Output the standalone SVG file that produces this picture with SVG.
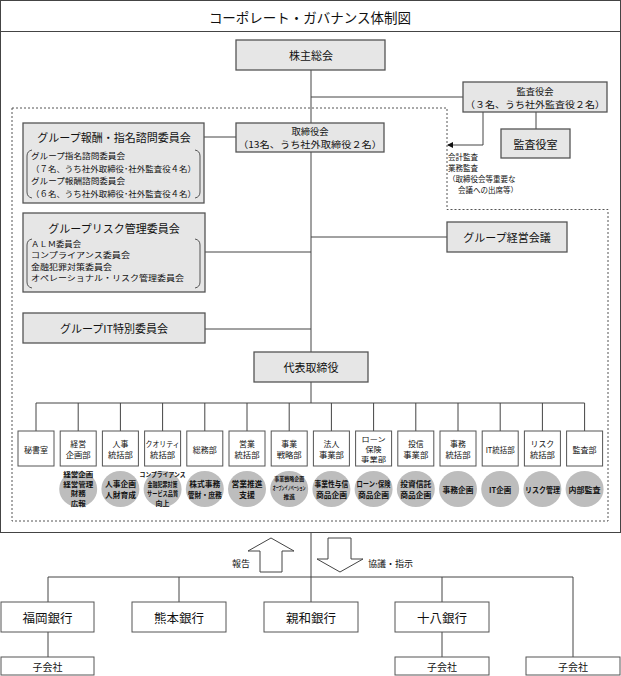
<svg xmlns="http://www.w3.org/2000/svg" width="621" height="676" viewBox="0 0 621 676">
<style>
.g{fill:#e6e6e6;stroke:#555;stroke-width:1.3}
.w{fill:#fff;stroke:#555;stroke-width:1}
.c{fill:#bdbdbd;stroke:none}
.ln{stroke:#444;stroke-width:1;fill:none}
.dash{stroke:#555;stroke-width:1;stroke-dasharray:2,2;fill:none}
.br{stroke:#555;stroke-width:1;fill:none}
text{font-family:"Noto Sans CJK JP","Noto Sans",sans-serif;fill:#111;dominant-baseline:central}
.m{text-anchor:middle}
.t11{font-size:11px}
.t10{font-size:10px}
.tb{font-size:9.3px}
.t9{font-size:8.5px}
.tr{font-size:7.9px}
.d{font-size:7.9px;text-anchor:middle}
.d3{font-size:6.8px;text-anchor:middle}
.ci{font-size:7.5px;font-weight:bold;text-anchor:middle}
.c4{font-size:6.6px;font-weight:bold;text-anchor:middle}
.ct{font-size:5.8px;font-weight:bold;text-anchor:middle}
.an{font-size:7.5px}
.bank{font-size:12.5px;text-anchor:middle}
</style>
<defs>
<marker id="ah" markerWidth="6" markerHeight="6" refX="5" refY="3" orient="auto" markerUnits="userSpaceOnUse">
<path d="M0,0 L6,3 L0,6 Z" fill="#111"/>
</marker>
</defs>
<rect x="0.5" y="0.5" width="620" height="532" fill="#fff" stroke="#444" stroke-width="1"/>
<line x1="0.5" y1="31.5" x2="620.5" y2="31.5" stroke="#444" stroke-width="1"/>
<text x="310" y="17" class="m" font-size="13.5">コーポレート・ガバナンス体制図</text>
<path class="dash" d="M12,108 H447 V209.5 H608 V521 H12 Z"/>
<g id="connectors">
<line class="ln" x1="311" y1="70" x2="311" y2="403"/>
<line class="ln" x1="311" y1="97" x2="463" y2="97"/>
<line class="ln" x1="204" y1="137" x2="236" y2="137"/>
<line class="ln" x1="205" y1="252" x2="311" y2="252"/>
<line class="ln" x1="311" y1="237" x2="447" y2="237"/>
<line class="ln" x1="205" y1="329" x2="311" y2="329"/>
<line class="ln" x1="536" y1="112" x2="536" y2="129"/>
<path class="ln" d="M483,112 V145 H448" marker-end="url(#ah)"/>
<line class="ln" x1="36" y1="403" x2="584.6" y2="403"/>
<g class="ln">
<line x1="36" y1="403" x2="36" y2="431"/>
<line x1="78.2" y1="403" x2="78.2" y2="431"/>
<line x1="120.4" y1="403" x2="120.4" y2="431"/>
<line x1="162.6" y1="403" x2="162.6" y2="431"/>
<line x1="204.8" y1="403" x2="204.8" y2="431"/>
<line x1="247" y1="403" x2="247" y2="431"/>
<line x1="289.2" y1="403" x2="289.2" y2="431"/>
<line x1="331.4" y1="403" x2="331.4" y2="431"/>
<line x1="373.6" y1="403" x2="373.6" y2="431"/>
<line x1="415.8" y1="403" x2="415.8" y2="431"/>
<line x1="458" y1="403" x2="458" y2="431"/>
<line x1="500.2" y1="403" x2="500.2" y2="431"/>
<line x1="542.4" y1="403" x2="542.4" y2="431"/>
<line x1="584.6" y1="403" x2="584.6" y2="431"/>
</g>
<line class="ln" x1="311" y1="532" x2="311" y2="602"/>
<line class="ln" x1="48" y1="577" x2="573" y2="577"/>
<line class="ln" x1="48" y1="577" x2="48" y2="602"/>
<line class="ln" x1="179" y1="577" x2="179" y2="602"/>
<line class="ln" x1="442" y1="577" x2="442" y2="602"/>
<line class="ln" x1="573" y1="577" x2="573" y2="657"/>
<line class="ln" x1="48" y1="632" x2="48" y2="657"/>
<line class="ln" x1="442" y1="632" x2="442" y2="657"/>
<polygon points="271,538 294,551 282,551 282,572 260,572 260,551 248,551" fill="#fff" stroke="#444" stroke-width="1"/>
<polygon points="328,538 351,538 351,559 363,559 340,572 317,559 328,559" fill="#fff" stroke="#444" stroke-width="1"/>
</g>
<text x="241" y="563" class="m" font-size="9">報告</text>
<text x="368" y="563" font-size="9">協議・指示</text>
<g id="audit-note">
<text x="448" y="156" class="an">会計監査</text>
<text x="448" y="167" class="an">業務監査</text>
<text x="448" y="178" class="an">（取締役会等重要な</text>
<text x="458" y="189" class="an">会議への出席等）</text>
</g>
<g id="n-kabunushi"><rect class="g" x="236" y="40" width="149" height="30"/><text x="311" y="55" class="m t11">株主総会</text></g>
<g id="n-kansayakukai"><rect class="g" x="463" y="82" width="144" height="30"/><text x="535" y="90.5" class="m tb">監査役会</text><text x="535" y="104" class="m tb" textLength="140" lengthAdjust="spacingAndGlyphs">（３名、うち社外監査役２名）</text></g>
<g id="n-kansayakushitsu"><rect class="g" x="501" y="129" width="69" height="29"/><text x="535.5" y="143.5" class="m t11">監査役室</text></g>
<g id="n-torishimariyakukai"><rect class="g" x="236" y="123" width="148" height="29"/><text x="310" y="130.5" class="m tb">取締役会</text><text x="310" y="144" class="m tb" textLength="144" lengthAdjust="spacingAndGlyphs">（13名、うち社外取締役２名）</text></g>
<g id="n-houshu"><rect class="g" x="23" y="123" width="181" height="80"/>
<text x="114" y="137" class="m t11">グループ報酬・指名諮問委員会</text>
<path class="br" d="M32,150 Q27,151 27,156 V192 Q27,197 32,198"/>
<path class="br" d="M195,150 Q200,151 200,156 V192 Q200,197 195,198"/>
<text x="31" y="155" class="t9" textLength="94" lengthAdjust="spacingAndGlyphs">グループ指名諮問委員会</text>
<text x="31" y="167.5" class="t9" textLength="165" lengthAdjust="spacingAndGlyphs">（７名、うち社外取締役･社外監査役４名）</text>
<text x="31" y="180" class="t9" textLength="94" lengthAdjust="spacingAndGlyphs">グループ報酬諮問委員会</text>
<text x="31" y="192.5" class="t9" textLength="165" lengthAdjust="spacingAndGlyphs">（６名、うち社外取締役･社外監査役４名）</text>
</g>
<g id="n-risk"><rect class="g" x="23" y="213" width="182" height="79"/>
<text x="114" y="228" class="m t11">グループリスク管理委員会</text>
<path class="br" d="M32,239 Q27,240 27,245 V282 Q27,287 32,288"/>
<path class="br" d="M195,239 Q200,240 200,245 V282 Q200,287 195,288"/>
<text x="31" y="243" class="tr" textLength="50" lengthAdjust="spacingAndGlyphs">ＡＬＭ委員会</text>
<text x="31" y="254.5" class="tr" textLength="99" lengthAdjust="spacingAndGlyphs">コンプライアンス委員会</text>
<text x="31" y="266" class="tr" textLength="81" lengthAdjust="spacingAndGlyphs">金融犯罪対策委員会</text>
<text x="31" y="277.5" class="tr" textLength="153" lengthAdjust="spacingAndGlyphs">オペレーショナル・リスク管理委員会</text>
</g>
<g id="n-it"><rect class="g" x="23" y="313" width="182" height="30"/><text x="114" y="328" class="m t11">グループIT特別委員会</text></g>
<g id="n-keiei"><rect class="g" x="447" y="222" width="120" height="30"/><text x="507" y="237" class="m t11">グループ経営会議</text></g>
<g id="n-daihyo"><rect class="g" x="254" y="352" width="114" height="30"/><text x="311" y="367" class="m t11">代表取締役</text></g>

<g id="d0"><rect class="w" x="18" y="431" width="36" height="35"/><text x="36" y="449" class="d" textLength="24" lengthAdjust="spacingAndGlyphs">秘書室</text></g>
<g id="d1"><rect class="w" x="60.2" y="431" width="36" height="35"/><text x="78.2" y="443" class="d">経営</text><text x="78.2" y="454.5" class="d" textLength="25" lengthAdjust="spacingAndGlyphs">企画部</text>
<ellipse class="c" cx="78.2" cy="489" rx="19" ry="18"/><text x="78.2" y="474" class="c4" textLength="30" lengthAdjust="spacingAndGlyphs">経営企画</text><text x="78.2" y="483.7" class="c4" textLength="30" lengthAdjust="spacingAndGlyphs">経営管理</text><text x="78.2" y="493.4" class="c4" textLength="15" lengthAdjust="spacingAndGlyphs">財務</text><text x="78.2" y="503.1" class="c4" textLength="15" lengthAdjust="spacingAndGlyphs">広報</text></g>
<g id="d2"><rect class="w" x="102.4" y="431" width="36" height="35"/><text x="120.4" y="443" class="d">人事</text><text x="120.4" y="454.5" class="d" textLength="25" lengthAdjust="spacingAndGlyphs">統括部</text>
<ellipse class="c" cx="120.4" cy="489" rx="19" ry="18"/><text x="120.4" y="483.5" class="ci" textLength="31" lengthAdjust="spacingAndGlyphs">人事企画</text><text x="120.4" y="494.5" class="ci" textLength="31" lengthAdjust="spacingAndGlyphs">人財育成</text></g>
<g id="d3"><rect class="w" x="144.6" y="431" width="36" height="35"/><text x="162.6" y="443" class="d" textLength="34" lengthAdjust="spacingAndGlyphs">クオリティ</text><text x="162.6" y="454.5" class="d" textLength="25" lengthAdjust="spacingAndGlyphs">統括部</text>
<ellipse class="c" cx="162.6" cy="489" rx="19" ry="18"/><text x="162.6" y="474" class="c4" textLength="46" lengthAdjust="spacingAndGlyphs">コンプライアンス</text><text x="162.6" y="483.7" class="c4" textLength="30" lengthAdjust="spacingAndGlyphs">金融犯罪対策</text><text x="162.6" y="493.4" class="c4" textLength="31" lengthAdjust="spacingAndGlyphs">サービス品質</text><text x="162.6" y="503.1" class="c4" textLength="14" lengthAdjust="spacingAndGlyphs">向上</text></g>
<g id="d4"><rect class="w" x="186.8" y="431" width="36" height="35"/><text x="204.8" y="449" class="d" textLength="24" lengthAdjust="spacingAndGlyphs">総務部</text>
<ellipse class="c" cx="204.8" cy="489" rx="19" ry="18"/><text x="204.8" y="483.5" class="ci" textLength="31" lengthAdjust="spacingAndGlyphs">株式事務</text><text x="204.8" y="494.5" class="ci" textLength="34" lengthAdjust="spacingAndGlyphs">管財・庶務</text></g>
<g id="d5"><rect class="w" x="229" y="431" width="36" height="35"/><text x="247" y="443" class="d">営業</text><text x="247" y="454.5" class="d" textLength="25" lengthAdjust="spacingAndGlyphs">統括部</text>
<ellipse class="c" cx="247" cy="489" rx="19" ry="18"/><text x="247" y="483.5" class="ci" textLength="31" lengthAdjust="spacingAndGlyphs">営業推進</text><text x="247" y="494.5" class="ci" textLength="16" lengthAdjust="spacingAndGlyphs">支援</text></g>
<g id="d6"><rect class="w" x="271.2" y="431" width="36" height="35"/><text x="289.2" y="443" class="d">事業</text><text x="289.2" y="454.5" class="d" textLength="25" lengthAdjust="spacingAndGlyphs">戦略部</text>
<ellipse class="c" cx="289.2" cy="489" rx="19" ry="18"/>
<text transform="translate(289.2,479) scale(0.86,1)" class="ct">事業戦略企画</text>
<text transform="translate(289.2,487.5) scale(0.52,1)" class="ct">オープンイノベーション</text>
<text transform="translate(289.2,496)" class="ct">推進</text></g>
<g id="d7"><rect class="w" x="313.4" y="431" width="36" height="35"/><text x="331.4" y="443" class="d">法人</text><text x="331.4" y="454.5" class="d" textLength="25" lengthAdjust="spacingAndGlyphs">事業部</text>
<ellipse class="c" cx="331.4" cy="489" rx="19" ry="18"/><text transform="translate(331.4,483.5) scale(0.9,1)" class="ci">事業性与信</text><text x="331.4" y="494.5" class="ci" textLength="31" lengthAdjust="spacingAndGlyphs">商品企画</text></g>
<g id="d8"><rect class="w" x="355.6" y="431" width="36" height="35"/><text x="373.6" y="438.5" class="d3" textLength="24" lengthAdjust="spacingAndGlyphs">ローン</text><text x="373.6" y="448.5" class="d3" textLength="16" lengthAdjust="spacingAndGlyphs">保険</text><text x="373.6" y="458.5" class="d3" textLength="25" lengthAdjust="spacingAndGlyphs">事業部</text>
<ellipse class="c" cx="373.6" cy="489" rx="19" ry="18"/><text x="373.6" y="483.5" class="ci" textLength="34" lengthAdjust="spacingAndGlyphs">ローン･保険</text><text x="373.6" y="494.5" class="ci" textLength="31" lengthAdjust="spacingAndGlyphs">商品企画</text></g>
<g id="d9"><rect class="w" x="397.8" y="431" width="36" height="35"/><text x="415.8" y="443" class="d">投信</text><text x="415.8" y="454.5" class="d" textLength="25" lengthAdjust="spacingAndGlyphs">事業部</text>
<ellipse class="c" cx="415.8" cy="489" rx="19" ry="18"/><text x="415.8" y="483.5" class="ci" textLength="31" lengthAdjust="spacingAndGlyphs">投資信託</text><text x="415.8" y="494.5" class="ci" textLength="31" lengthAdjust="spacingAndGlyphs">商品企画</text></g>
<g id="d10"><rect class="w" x="440" y="431" width="36" height="35"/><text x="458" y="443" class="d">事務</text><text x="458" y="454.5" class="d" textLength="25" lengthAdjust="spacingAndGlyphs">統括部</text>
<ellipse class="c" cx="458" cy="489" rx="19" ry="18"/><text x="458" y="489" class="ci" textLength="31" lengthAdjust="spacingAndGlyphs">事務企画</text></g>
<g id="d11"><rect class="w" x="482.2" y="431" width="36" height="35"/><text x="500.2" y="449" class="d" textLength="29" lengthAdjust="spacingAndGlyphs">IT統括部</text>
<ellipse class="c" cx="500.2" cy="489" rx="19" ry="18"/><text x="500.2" y="489" class="ci">IT企画</text></g>
<g id="d12"><rect class="w" x="524.4" y="431" width="36" height="35"/><text x="542.4" y="443" class="d">リスク</text><text x="542.4" y="454.5" class="d" textLength="25" lengthAdjust="spacingAndGlyphs">統括部</text>
<ellipse class="c" cx="542.4" cy="489" rx="19" ry="18"/><text x="542.4" y="489" class="ci" textLength="35" lengthAdjust="spacingAndGlyphs">リスク管理</text></g>
<g id="d13"><rect class="w" x="566.6" y="431" width="36" height="35"/><text x="584.6" y="449" class="d" textLength="24" lengthAdjust="spacingAndGlyphs">監査部</text>
<ellipse class="c" cx="584.6" cy="489" rx="19" ry="18"/><text x="584.6" y="489" class="ci" textLength="32" lengthAdjust="spacingAndGlyphs">内部監査</text></g>

<g id="b-fukuoka"><rect class="w" x="1" y="602" width="93" height="30"/><text x="47.5" y="617" class="bank">福岡銀行</text></g>
<g id="b-kumamoto"><rect class="w" x="132" y="602" width="94" height="30"/><text x="179" y="617" class="bank">熊本銀行</text></g>
<g id="b-shinwa"><rect class="w" x="264" y="602" width="94" height="30"/><text x="311" y="617" class="bank">親和銀行</text></g>
<g id="b-juhachi"><rect class="w" x="395" y="602" width="94" height="30"/><text x="442" y="617" class="bank">十八銀行</text></g>
<g id="s1"><rect class="w" x="1" y="657" width="93" height="18"/><text x="47.5" y="666.5" class="m t10">子会社</text></g>
<g id="s2"><rect class="w" x="395" y="657" width="94" height="18"/><text x="442" y="666.5" class="m t10">子会社</text></g>
<g id="s3"><rect class="w" x="526" y="657" width="94" height="18"/><text x="573" y="666.5" class="m t10">子会社</text></g>
</svg>
